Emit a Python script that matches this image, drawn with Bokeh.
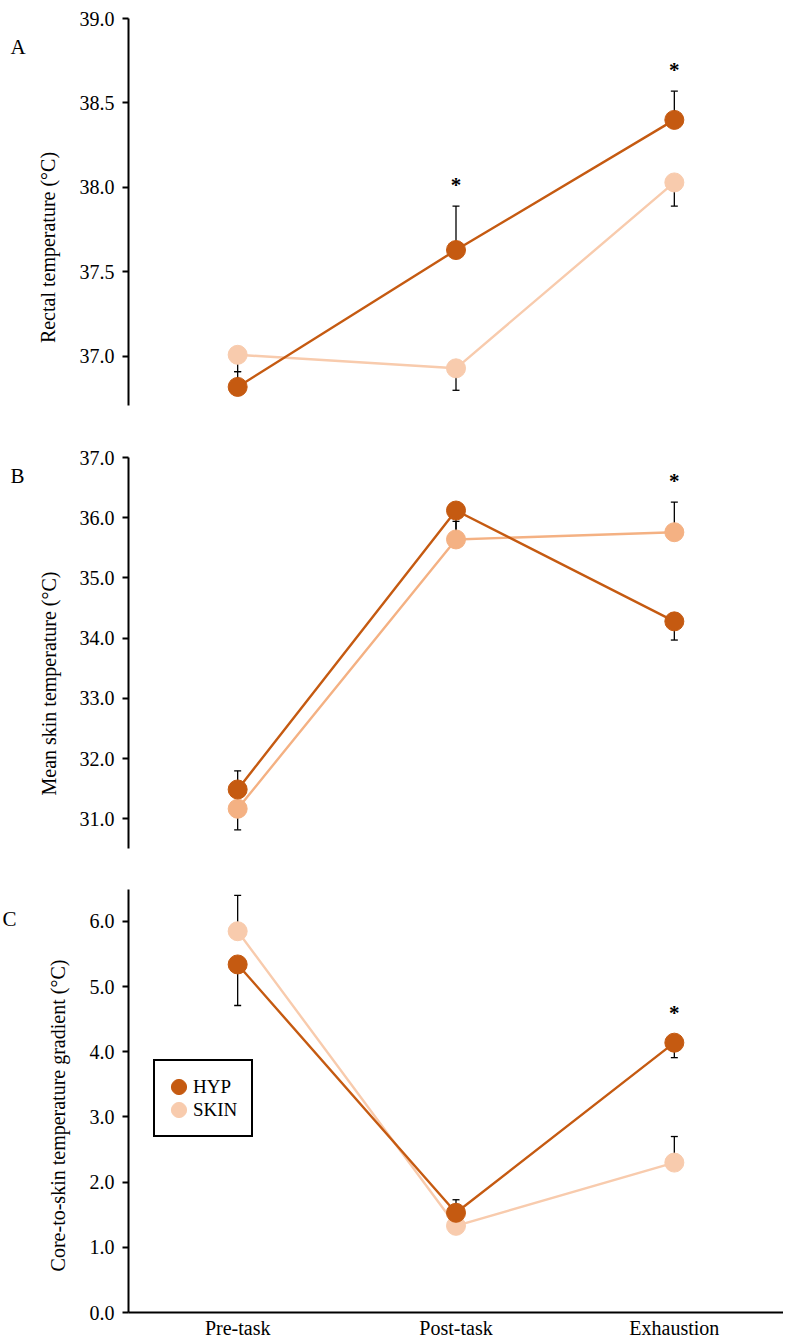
import math
from bokeh.plotting import figure
from bokeh.layouts import column
from bokeh.models import (Range1d, FixedTicker, NumeralTickFormatter, LinearAxis,
                          Legend, LegendItem, ColumnDataSource)
from bokeh.core.properties import value
from bokeh.embed import file_html
from bokeh.resources import INLINE

# ---------------- data ----------------
categories = ["Pre-task", "Post-task", "Exhaustion"]

# Panel A: rectal temperature (°C)
hyp_rectal = [36.82, 37.63, 38.40]
hyp_rectal_sd = [0.09, 0.26, 0.17]
hyp_rectal_dir = [1, 1, 1]
skin_rectal = [37.01, 36.93, 38.03]
skin_rectal_sd = [0.10, 0.13, 0.14]
skin_rectal_dir = [-1, -1, -1]
rectal_sig = [False, True, True]
rectal_ticks = [37.0, 37.5, 38.0, 38.5, 39.0]

# Panel B: mean skin temperature (°C)
hyp_skin = [31.49, 36.12, 34.28]
hyp_skin_sd = [0.31, 0.35, 0.31]
hyp_skin_dir = [1, -1, -1]
skin_skin = [31.17, 35.64, 35.76]
skin_skin_sd = [0.35, 0.30, 0.50]
skin_skin_dir = [-1, 1, 1]
skin_sig = [False, False, True]
skin_ticks = [31.0, 32.0, 33.0, 34.0, 35.0, 36.0, 37.0]

# Panel C: core-to-skin temperature gradient (°C)
hyp_grad = [5.34, 1.53, 4.14]
hyp_grad_sd = [0.63, 0.20, 0.23]
hyp_grad_dir = [-1, 1, -1]
skin_grad = [5.85, 1.33, 2.30]
skin_grad_sd = [0.55, 0.15, 0.40]
skin_grad_dir = [1, 1, 1]
grad_sig = [False, False, True]
grad_ticks = [0.0, 1.0, 2.0, 3.0, 4.0, 5.0, 6.0]

HYP_COLOR = "#C55A11"
SKIN_COLOR = "#F8CBAD"
SKIN_COLOR_B = "#F4B183"
FONT = "Liberation Serif"

# ---------------- layout constants (pixels) ----------------
W = 783
AXIS_X = 128           # x pixel of the y axis
N = len(categories)
PX_PER_CAT = (W - AXIS_X) / N
X_START = -AXIS_X / PX_PER_CAT
X_END = float(N)
xpos = [i + 0.5 for i in range(N)]


def make_panel(letter, ylabel, ybounds, ticks, hyp, hyp_sd, hyp_dir, skn, skn_sd, skn_dir,
               sig, skin_color, height, y_top_px, y_bot_px, show_x, letter_off, title_pos,
               legend_loc=None):
    lo, hi = ybounds
    ppu = (y_bot_px - y_top_px) / (hi - lo)
    y_end = hi + y_top_px / ppu
    y_start = hi - (height - y_top_px) / ppu

    p = figure(width=W, height=height, x_range=Range1d(X_START, X_END),
               y_range=Range1d(y_start, y_end), output_backend="svg", toolbar_location=None,
               x_axis_location=None, y_axis_location=None,
               min_border_left=0, min_border_right=0, min_border_top=0, min_border_bottom=0)
    p.outline_line_color = None
    p.xgrid.visible = False
    p.ygrid.visible = False
    p.background_fill_color = "white"
    p.border_fill_color = "white"

    ya = LinearAxis(fixed_location=0, bounds=(lo, hi))
    ya.ticker = FixedTicker(ticks=ticks)
    ya.formatter = NumeralTickFormatter(format="0.0")
    ya.axis_line_color = "black"
    ya.axis_line_width = 2
    ya.major_tick_line_color = "black"
    ya.major_tick_line_width = 2
    ya.major_tick_out = 6
    ya.major_tick_in = 0
    ya.minor_tick_line_color = None
    ya.major_label_standoff = 8
    ya.major_label_text_font = FONT
    ya.major_label_text_font_size = "20px"
    ya.major_label_text_color = "black"
    p.add_layout(ya, "left")

    # y-axis title (rotated text placed from the panel's top-left corner)
    tx, ty = title_pos
    p.text(x=[X_START], y=[y_end], text=[ylabel], x_offset=tx, y_offset=ty,
           angle=math.pi / 2, text_align="center", text_baseline="middle",
           text_font=value(FONT), text_font_size="20px", text_color="black")

    if show_x:
        xa = LinearAxis(fixed_location=lo, bounds=(0, X_END))
        xa.ticker = FixedTicker(ticks=xpos)
        xa.major_label_overrides = {x: c for x, c in zip(xpos, categories)}
        xa.axis_line_color = "black"
        xa.axis_line_width = 2
        xa.major_tick_line_color = None
        xa.major_tick_out = 0
        xa.major_tick_in = 0
        xa.minor_tick_line_color = None
        xa.major_label_standoff = 4
        xa.major_label_text_font = FONT
        xa.major_label_text_font_size = "20px"
        xa.major_label_text_color = "black"
        p.add_layout(xa, "below")

    # error bars (one-sided)
    for vals, sd, dr in ((hyp, hyp_sd, hyp_dir), (skn, skn_sd, skn_dir)):
        ends = [v + d * s for v, s, d in zip(vals, sd, dr)]
        p.segment(x0=xpos, y0=vals, x1=xpos, y1=ends, line_color="black", line_width=1.3)
        p.scatter(x=xpos, y=ends, marker="dash", size=7, line_color="black", line_width=1.3)

    # series
    p.line(x=xpos, y=skn, line_color=skin_color, line_width=2.4)
    r_skin = p.ellipse(x=xpos, y=skn, width=19, height=19, width_units="screen",
                       height_units="screen", fill_color=skin_color, line_color=skin_color)
    p.line(x=xpos, y=hyp, line_color=HYP_COLOR, line_width=2.4)
    r_hyp = p.ellipse(x=xpos, y=hyp, width=19, height=19, width_units="screen",
                      height_units="screen", fill_color=HYP_COLOR, line_color=HYP_COLOR)

    # significance asterisks above the highest element at that time point
    ax, ay, aoff = [], [], []
    for i in range(N):
        if not sig[i]:
            continue
        cands = []
        for vals, sd, dr in ((hyp, hyp_sd, hyp_dir), (skn, skn_sd, skn_dir)):
            cands.append((vals[i], -30))
            if dr[i] > 0:
                cands.append((vals[i] + sd[i], -21))
        yv, off = max(cands, key=lambda t: t[0])
        ax.append(xpos[i])
        ay.append(yv)
        aoff.append(off)
    if ax:
        src = ColumnDataSource(dict(x=ax, y=ay, off=aoff, t=["*"] * len(ax)))
        p.text(x="x", y="y", text="t", y_offset="off", source=src, text_align="center",
               text_baseline="middle", text_font=value(FONT), text_font_size="21px",
               text_font_style="bold", text_color="black")

    # panel letter, positioned from the top-left corner of the panel
    lx, ly = letter_off
    p.text(x=[X_START], y=[y_end], text=[letter], x_offset=lx, y_offset=ly,
           text_align="left", text_baseline="alphabetic", text_font=value(FONT),
           text_font_size="21px", text_color="black")

    if legend_loc is not None:
        lg = Legend(items=[LegendItem(label="HYP", renderers=[r_hyp]),
                           LegendItem(label="SKIN", renderers=[r_skin])],
                    location=legend_loc, orientation="vertical",
                    glyph_width=19, glyph_height=23, label_height=23, spacing=0,
                    padding=14, margin=0, label_standoff=5,
                    label_text_font=FONT, label_text_font_size="19px",
                    label_text_color="black",
                    border_line_color="black", border_line_width=2, border_line_alpha=1.0,
                    background_fill_color="white", background_fill_alpha=1.0)
        p.add_layout(lg, "center")
    return p


pA = make_panel("A", "Rectal temperature (°C)", (36.71, 39.0), rectal_ticks,
                hyp_rectal, hyp_rectal_sd, hyp_rectal_dir,
                skin_rectal, skin_rectal_sd, skin_rectal_dir, rectal_sig, SKIN_COLOR,
                height=420, y_top_px=18, y_bot_px=405, show_x=False, letter_off=(10, 46),
                title_pos=(47, 247))
pB = make_panel("B", "Mean skin temperature (°C)", (30.51, 37.0), skin_ticks,
                hyp_skin, hyp_skin_sd, hyp_skin_dir,
                skin_skin, skin_skin_sd, skin_skin_dir, skin_sig, SKIN_COLOR_B,
                height=440, y_top_px=37, y_bot_px=428, show_x=False, letter_off=(10, 55),
                title_pos=(48, 263))
pC = make_panel("C", "Core-to-skin temperature gradient (°C)", (0.0, 6.49), grad_ticks,
                hyp_grad, hyp_grad_sd, hyp_grad_dir,
                skin_grad, skin_grad_sd, skin_grad_dir, grad_sig, SKIN_COLOR,
                height=482, y_top_px=29, y_bot_px=452, show_x=True, letter_off=(2, 58),
                title_pos=(57, 255), legend_loc=(153, 205))

layout = column(pA, pB, pC, spacing=0)
open("out.html", "w").write(file_html(layout, INLINE))
